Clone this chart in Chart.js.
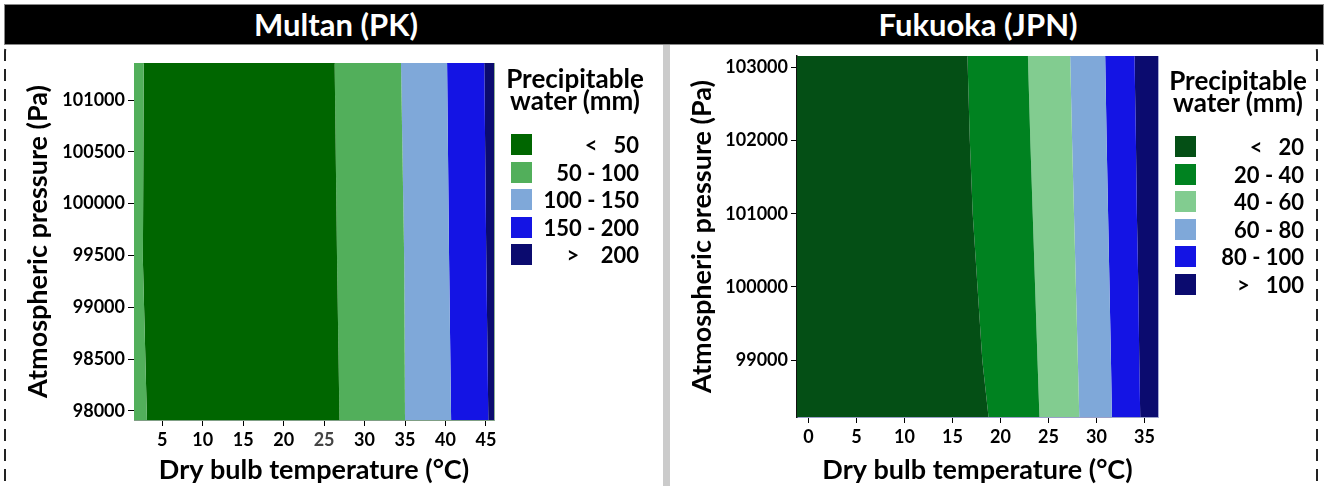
<!DOCTYPE html>
<html>
<head>
<meta charset="utf-8">
<script src="https://cdn.jsdelivr.net/npm/chart.js@4.4.1/dist/chart.umd.min.js"></script>
<style>
  html, body { margin: 0; padding: 0; background: #fff; }
  body { width: 1328px; height: 486px; position: relative; overflow: hidden; font-family: Lato, "Open Sans", sans-serif; font-weight: bold; }
  #frames { position: absolute; left: 0; top: 0; }
  #header { position: absolute; left: 4px; top: 4px; width: 1318px; height: 39px; background: #000; border: 1px solid #888; }
  .title { position: absolute; top: 0; height: 39px; line-height: 39px; color: #fff; font-size: 31px; transform: translateX(-50%); white-space: nowrap; }
  #sep { position: absolute; left: 663px; top: 45px; width: 7px; height: 441px; background: #cbcbcb; }
  .box { position: absolute; }
  .legend { position: absolute; color: #000; }
  .legend .head { position: absolute; top: 0; font-size: 26px; line-height: 22px; text-align: center; white-space: nowrap; transform: translateX(-50%); }
  .legend .row { position: absolute; left: 0; height: 21px; }
  .legend .sw { position: absolute; left: 0; top: 0; width: 21px; height: 21px; }
  .legend .lab { position: absolute; top: 0; height: 21px; line-height: 21px; font-size: 22px; text-align: right; white-space: pre; }
</style>
</head>
<body>
<svg id="frames" width="1328" height="486">
  <rect x="5" y="36" width="661" height="480" rx="16" ry="16" fill="none" stroke="#222" stroke-width="2" stroke-dasharray="12 8"/>
  <rect x="667" y="36" width="650" height="480" rx="16" ry="16" fill="none" stroke="#222" stroke-width="2" stroke-dasharray="12 8"/>
</svg>
<div id="header">
  <div class="title" style="left:331px">Multan (PK)</div>
  <div class="title" style="left:973px">Fukuoka (JPN)</div>
</div>
<div id="sep"></div>

<div class="box" style="left:10px;top:50px;width:650px;height:436px"><canvas id="multanChart"></canvas></div>
<div class="box" style="left:672px;top:50px;width:656px;height:436px"><canvas id="fukuokaChart"></canvas></div>

<div class="legend" id="legendMultan" style="left:511px;top:67px;width:130px"></div>
<div class="legend" id="legendFukuoka" style="left:1175px;top:69px;width:130px"></div>

<script>
// ---- Multan (PK) ----
var multanCats = ["<   50", "50 - 100", "100 - 150", "150 - 200", ">    200"];
var multanColors = ["#006600", "#52AF5B", "#7FA8D9", "#1414E4", "#0B0B6F"];
var multanXTicks = [5, 10, 15, 20, 25, 30, 35, 40, 45];
var multanYTicks = [98000, 98500, 99000, 99500, 100000, 100500, 101000];
var multanXRange = [1.5, 46];
var multanYRange = [97913, 101357];
// pressure levels where the contour edges were read (bottom -> top)
var multanLevels = [97913, 99450, 101357];
// temperature of each contour edge at those levels, left to right
var multanEdges = [
  [3.1, 2.6, 2.7],
  [26.9, 26.6, 26.3],
  [35.0, 34.9, 34.5],
  [40.7, 40.45, 40.2],
  [45.3, 45.05, 44.8]
];
// category of each band between edges, left to right
var multanBands = [1, 0, 1, 2, 3, 4];

// ---- Fukuoka (JPN) ----
var fukuokaCats = ["<   20", "20 - 40", "40 - 60", "60 - 80", "80 - 100", ">   100"];
var fukuokaColors = ["#044F15", "#008220", "#82CC90", "#7FA8D9", "#1414E4", "#0B0B6F"];
var fukuokaXTicks = [0, 5, 10, 15, 20, 25, 30, 35];
var fukuokaYTicks = [99000, 100000, 101000, 102000, 103000];
var fukuokaXRange = [-1.2, 36.4];
var fukuokaYRange = [98225, 103154];
var fukuokaLevels = [98225, 99000, 100000, 101000, 102000, 103154];
var fukuokaEdges = [
  [18.75, 18.1, 17.6, 17.1, 16.8, 16.55],
  [24.05, 23.85, 23.6, 23.35, 23.1, 22.85],
  [28.2, 28.05, 27.85, 27.65, 27.45, 27.25],
  [31.6, 31.5, 31.35, 31.2, 31.05, 30.9],
  [34.55, 34.45, 34.35, 34.2, 34.1, 33.95]
];
var fukuokaBands = [0, 1, 2, 3, 4, 5];

Chart.defaults.font.family = "Lato, 'Open Sans', sans-serif";
Chart.defaults.font.weight = "bold";
Chart.defaults.color = "#000";

function buildBands(levels, edges, bands, colors, xRange) {
  var all = [levels.map(function () { return xRange[0]; })]
    .concat(edges)
    .concat([levels.map(function () { return xRange[1]; })]);
  return bands.map(function (cat, i) {
    var left = all[i].map(function (t, k) { return { x: t, y: levels[k] }; });
    var right = all[i + 1].map(function (t, k) { return { x: t, y: levels[k] }; }).reverse();
    return {
      data: left.concat(right),
      showLine: true,
      fill: "shape",
      indexAxis: "y",
      tension: 0,
      backgroundColor: colors[cat],
      borderColor: "transparent",
      borderWidth: 0,
      pointRadius: 0,
      pointHoverRadius: 0
    };
  });
}

function noPad(scale) {
  scale.paddingTop = 0;
  scale.paddingBottom = 0;
  scale.paddingLeft = 0;
  scale.paddingRight = 0;
}

function createChart(id, cfg) {
  var tickFont = { size: 18, weight: "bold" };
  var titleFont = { size: 27, weight: "bold" };
  return new Chart(document.getElementById(id), {
    type: "scatter",
    data: { datasets: buildBands(cfg.levels, cfg.edges, cfg.bands, cfg.colors, cfg.xRange) },
    options: {
      responsive: true,
      maintainAspectRatio: false,
      animation: false,
      events: [],
      layout: { padding: cfg.padding },
      plugins: { legend: { display: false }, tooltip: { enabled: false } },
      scales: {
        x: {
          type: "linear",
          position: "bottom",
          min: cfg.xRange[0],
          max: cfg.xRange[1],
          afterBuildTicks: function (scale) {
            scale.ticks = cfg.xTicks.map(function (v) { return { value: v }; });
          },
          afterFit: function (scale) { scale.height = cfg.xAxisHeight; noPad(scale); },
          ticks: { font: tickFont, padding: 3, color: cfg.xTickColor || "#000" },
          grid: { drawOnChartArea: false, tickLength: 6, color: "#000" },
          border: { color: cfg.frame[0], width: 1 },
          title: { display: true, text: "Dry bulb temperature (°C)", font: titleFont, padding: { top: 0, bottom: 0 } }
        },
        y: {
          type: "linear",
          position: "left",
          min: cfg.yRange[0],
          max: cfg.yRange[1],
          afterBuildTicks: function (scale) {
            scale.ticks = cfg.yTicks.map(function (v) { return { value: v }; });
          },
          afterFit: function (scale) { scale.width = cfg.yAxisWidth; noPad(scale); },
          ticks: { font: tickFont, padding: 3, callback: function (v) { return String(v); } },
          grid: { drawOnChartArea: false, tickLength: 6, color: "#000" },
          border: { color: cfg.frame[1], width: cfg.frame[2] },
          title: { display: true, text: "Atmospheric pressure (Pa)", font: titleFont, padding: { top: cfg.yTitlePad, bottom: 0 } }
        },
        x2: {
          type: "linear", position: "top", min: cfg.xRange[0], max: cfg.xRange[1],
          ticks: { display: false }, grid: { display: false, drawTicks: false },
          border: { color: cfg.frame[3], width: 1 },
          afterFit: function (scale) { scale.height = 0; noPad(scale); }
        },
        y2: {
          type: "linear", position: "right", min: cfg.yRange[0], max: cfg.yRange[1],
          ticks: { display: false }, grid: { display: false, drawTicks: false },
          border: { color: cfg.frame[3], width: 1 },
          afterFit: function (scale) { scale.width = 0; noPad(scale); }
        }
      }
    }
  });
}

function buildLegend(id, cats, colors, labelRight, headCenter) {
  var el = document.getElementById(id);
  var html = '<div class="head" style="left:' + headCenter + 'px">Precipitable<br>water (mm)</div>';
  cats.forEach(function (c, i) {
    var top = 67 + i * 27.6;
    html += '<div class="row" style="top:' + top + 'px;width:' + labelRight + 'px">' +
      '<div class="sw" style="background:' + colors[i] + '"></div>' +
      '<div class="lab" style="right:0">' + c + '</div></div>';
  });
  el.innerHTML = html;
}

createChart("multanChart", {
  levels: multanLevels, edges: multanEdges, bands: multanBands, colors: multanColors,
  xRange: multanXRange, yRange: multanYRange, xTicks: multanXTicks, yTicks: multanYTicks,
  padding: { top: 13, right: 166, left: 0, bottom: 0 },
  xAxisHeight: 66, yAxisWidth: 124, yTitlePad: 12,
  frame: ["#7f9f84", "#7f9f84", 1, "#8fae93"],
  xTickColor: function (ctx) { return ctx.tick && ctx.tick.value === 25 ? "#444" : "#000"; }
});

createChart("fukuokaChart", {
  levels: fukuokaLevels, edges: fukuokaEdges, bands: fukuokaBands, colors: fukuokaColors,
  xRange: fukuokaXRange, yRange: fukuokaYRange, xTicks: fukuokaXTicks, yTicks: fukuokaYTicks,
  padding: { top: 6, right: 170, left: 0, bottom: 0 },
  xAxisHeight: 69, yAxisWidth: 125, yTitlePad: 14,
  frame: ["#9aa0c8", "#111", 1.5, "#a8acd6"]
});

buildLegend("legendMultan", multanCats, multanColors, 128, 64);
buildLegend("legendFukuoka", fukuokaCats, fukuokaColors, 129, 63);
</script>
</body>
</html>
